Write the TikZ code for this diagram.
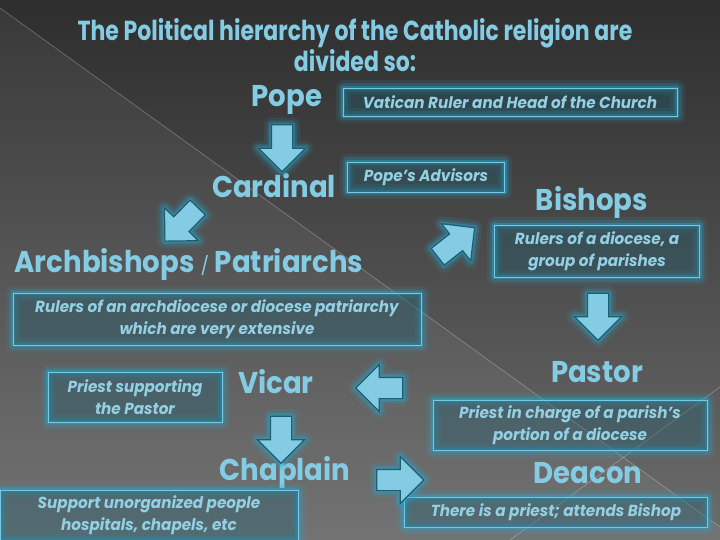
\documentclass[tikz,border=0pt]{standalone}
\usepackage{fontspec}
\setmainfont{Poppins}
\newfontfamily\titlefont[FakeStretch=0.8]{Poppins}
\newfontfamily\headfont[FakeStretch=0.92]{Poppins}
\newfontfamily\descfont[FakeStretch=0.95]{Poppins}
\usetikzlibrary{shapes.arrows, positioning}
\definecolor{bgtop}{HTML}{2E2E2E}
\definecolor{bgbottom}{HTML}{6C6C6C}
\definecolor{skyblue}{HTML}{84CCE4}
\definecolor{paleblue}{HTML}{93D0E4}
\definecolor{rimblue}{HTML}{74C9E6}
\definecolor{glowblue}{HTML}{2BA6CC}
\definecolor{deepteal}{HTML}{1D5E70}

\begin{document}
\begin{tikzpicture}[x=1pt,y=-1pt]
    \tikzset{Title/.style={text=skyblue, align=center, font=\titlefont\bfseries\fontsize{27.5}{27}\selectfont}}
    \tikzset{Rank/.style={text=skyblue, inner sep=0pt, font=\headfont\bfseries\fontsize{30}{32}\selectfont}}
    \tikzset{Glow/.style={preaction={draw=glowblue, line width=15pt, opacity=0.12, line join=round},
                          preaction={draw=glowblue, line width=9pt, opacity=0.2, line join=round},
                          preaction={draw=glowblue, line width=4.5pt, opacity=0.4, line join=round}}}
    \tikzset{Role/.style={Glow, draw=rimblue, line width=0.8pt, fill=deepteal, fill opacity=0.35, text opacity=1,
                          text=paleblue, align=center, inner sep=0pt, font=\descfont\bfseries\itshape\fontsize{16}{22}\selectfont}}
    \tikzset{BlockArrow/.style={single arrow, Glow, draw=deepteal, line width=1.2pt, fill=skyblue, sloped, allow upside down,
                                minimum height=47pt, inner sep=0pt, inner ysep=10pt, single arrow head extend=13pt, single arrow tip angle=90}}

    % background
    \useasboundingbox (0,0) rectangle (720,540);
    \fill[top color=bgtop, bottom color=bgbottom] (0,0) rectangle (720,540);
    \fill[white, opacity=0.05] (0,8) -- (720,527) -- (720,540) -- (0,540) -- cycle;
    \draw[white, opacity=0.3, line width=0.6pt] (0,8) -- (720,527);
    \draw[white, opacity=0.3, line width=0.6pt] (720,387) -- (510,540);

    \node[Title] (Heading) at (355,45) {The Political hierarchy of the Catholic religion are\\divided so:};

    % ranks
    \node[Rank] (Pope) at (287,100) {Pope};
    \node[Rank] (Cardinal) at (274,186) {Cardinal};
    \node[Rank] (Archbishops) at (189,264) {Archbishops {\normalfont\mdseries\fontsize{18}{20}\selectfont/} Patriarchs};
    \node[Rank] (Bishops) at (592,202) {Bishops};
    \node[Rank] (Pastor) at (597,372) {Pastor};
    \node[Rank] (Vicar) at (276,382) {Vicar};
    \node[Rank] (Chaplain) at (285,472) {Chaplain};
    \node[Rank] (Deacon) at (588,473) {Deacon};

    % roles
    \node[Role, minimum width=334pt, minimum height=28pt] (PopeRole) at (510,102) {Vatican Ruler and Head of the Church};
    \node[Role, minimum width=157pt, minimum height=30pt] (CardinalRole) at (426,177) {Pope’s Advisors};
    \node[Role, minimum width=408pt, minimum height=52pt] (ArchRole) at (217,319) {Rulers of an archdiocese or diocese patriarchy\\which are very extensive};
    \node[Role, minimum width=205pt, minimum height=52pt] (BishopsRole) at (597,251) {Rulers of a diocese, a\\group of parishes};
    \node[Role, minimum width=274pt, minimum height=50pt] (PastorRole) at (570,425) {Priest in charge of a parish’s\\portion of a diocese};
    \node[Role, minimum width=174pt, minimum height=50pt] (VicarRole) at (135,397) {Priest supporting\\the Pastor};
    \node[Role, minimum width=298pt, minimum height=50pt] (ChaplainRole) at (149,515) {Support unorganized people\\hospitals, chapels, etc};
    \node[Role, minimum width=303pt, minimum height=30pt] (DeaconRole) at (556,512) {There is a priest; attends Bishop};

    % block arrows
    \coordinate (Tail01) at (282,119);  \coordinate (Tip01) at (282,167);
    \coordinate (Tail02) at (203,202);  \coordinate (Tip02) at (167,239);
    \coordinate (Tail03) at (431,262);  \coordinate (Tip03) at (473,229);
    \coordinate (Tail04) at (598,287);  \coordinate (Tip04) at (598,336);
    \coordinate (Tail05) at (408,388);  \coordinate (Tip05) at (361,388);
    \coordinate (Tail06) at (281,411);  \coordinate (Tip06) at (281,458);
    \coordinate (Tail07) at (372,480);  \coordinate (Tip07) at (418,480);

    \path (Tail01) -- node[BlockArrow] (A01) {} (Tip01);
    \path (Tail02) -- node[BlockArrow] (A02) {} (Tip02);
    \path (Tail03) -- node[BlockArrow] (A03) {} (Tip03);
    \path (Tail04) -- node[BlockArrow] (A04) {} (Tip04);
    \path (Tail05) -- node[BlockArrow] (A05) {} (Tip05);
    \path (Tail06) -- node[BlockArrow] (A06) {} (Tip06);
    \path (Tail07) -- node[BlockArrow] (A07) {} (Tip07);
\end{tikzpicture}
\end{document}
